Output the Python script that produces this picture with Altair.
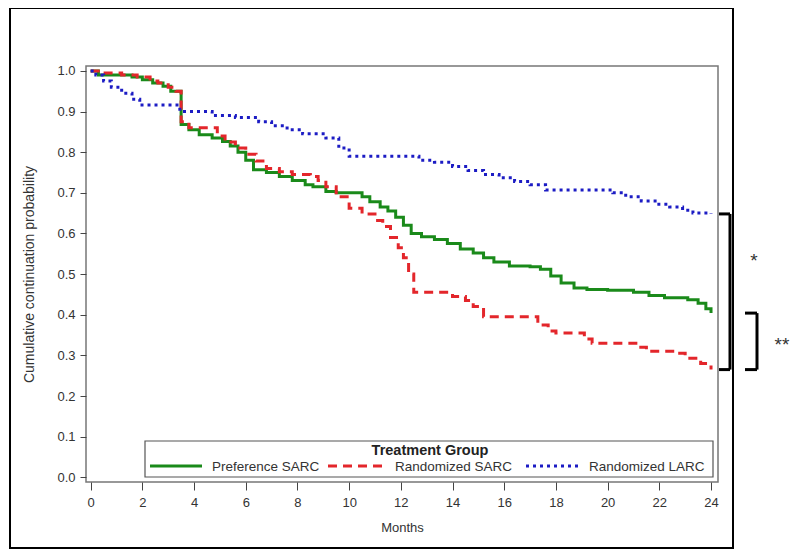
import altair as alt
import pandas as pd

groups = ["Preference SARC", "Randomized SARC", "Randomized LARC"]
colors = ["#1a8a1a", "#e3262b", "#1c1cc4"]
dashes = [[1, 0], [9, 6], [3, 4]]

months_pref = [0, 0.3, 1.0, 1.6, 2.0, 2.4, 2.8, 3.1, 3.5, 3.8,
               4.2, 4.7, 5.1, 5.4, 5.7, 6.0, 6.3, 6.8, 7.3, 7.8,
               8.3, 8.6, 9.1, 9.5, 10.2, 10.5, 10.8, 11.2, 11.5, 11.8,
               12.1, 12.4, 12.8, 13.3, 13.8, 14.3, 14.8, 15.2, 15.6, 16.2,
               17.0, 17.4, 17.8, 18.2, 18.7, 19.2, 20.0, 21.0, 21.6, 22.2,
               23.1, 23.5, 23.8, 24.0]
surv_pref = [1.0, 0.99, 0.99, 0.985, 0.978, 0.97, 0.962, 0.95, 0.868, 0.855,
             0.843, 0.835, 0.826, 0.815, 0.80, 0.78, 0.757, 0.75, 0.74, 0.73,
             0.72, 0.715, 0.703, 0.70, 0.70, 0.69, 0.678, 0.665, 0.655, 0.64,
             0.62, 0.60, 0.592, 0.585, 0.575, 0.562, 0.552, 0.54, 0.53, 0.52,
             0.518, 0.512, 0.495, 0.478, 0.466, 0.462, 0.46, 0.455, 0.447, 0.442,
             0.437, 0.428, 0.415, 0.404]

months_rsarc = [0, 0.4, 1.2, 1.8, 2.3, 2.6, 3.0, 3.3, 3.5, 3.8,
                4.9, 5.2, 5.6, 6.0, 6.4, 6.8, 7.3, 7.8, 8.5, 8.8,
                9.1, 9.5, 10.0, 10.5, 11.0, 11.3, 11.6, 11.9, 12.1, 12.3,
                12.5, 14.0, 14.5, 14.8, 15.2, 17.3, 17.7, 18.0, 19.1, 19.4,
                21.2, 21.5, 22.7, 23.0, 23.6, 24.0]
surv_rsarc = [1.0, 0.995, 0.99, 0.985, 0.975, 0.97, 0.96, 0.95, 0.875, 0.86,
              0.84, 0.825, 0.81, 0.795, 0.778, 0.76, 0.752, 0.745, 0.74, 0.73,
              0.715, 0.69, 0.662, 0.648, 0.632, 0.617, 0.59, 0.565, 0.54, 0.50,
              0.455, 0.445, 0.435, 0.42, 0.395, 0.375, 0.36, 0.355, 0.34, 0.33,
              0.32, 0.31, 0.305, 0.293, 0.28, 0.265]

months_larc = [0, 0.2, 0.5, 0.8, 1.2, 1.6, 1.9, 3.45, 4.7, 5.6,
               6.5, 7.0, 7.6, 8.2, 9.1, 9.6, 10.0, 12.7, 13.3, 14.0,
               14.6, 15.2, 15.8, 16.4, 17.0, 17.6, 20.2, 20.7, 21.3, 21.9,
               22.4, 22.9, 23.3, 24.0]
surv_larc = [1.0, 0.99, 0.975, 0.96, 0.945, 0.93, 0.916, 0.90, 0.89, 0.885,
             0.875, 0.865, 0.855, 0.845, 0.835, 0.81, 0.79, 0.78, 0.775, 0.765,
             0.755, 0.745, 0.737, 0.728, 0.72, 0.707, 0.70, 0.69, 0.68, 0.672,
             0.665, 0.657, 0.65, 0.648]

x_ticks = list(range(0, 25, 2))
y_ticks = [0.0, 0.1, 0.2, 0.3, 0.4, 0.5, 0.6, 0.7, 0.8, 0.9, 1.0]

rows = []
for g, ts, vs in zip(groups, [months_pref, months_rsarc, months_larc],
                     [surv_pref, surv_rsarc, surv_larc]):
    for t, v in zip(ts, vs):
        rows.append({"group": g, "month": t, "surv": v})
df = pd.DataFrame(rows)

FONT = "Liberation Sans"
W, H = 632, 416

x_scale = alt.Scale(domain=[-0.18, 24.27], nice=False, zero=False)
y_scale = alt.Scale(domain=[-0.0116, 1.012], nice=False, zero=False)

lines = alt.Chart(df).mark_line(interpolate="step-after", strokeWidth=3).encode(
    x=alt.X("month:Q", scale=x_scale,
            axis=alt.Axis(title="Months", values=x_ticks, format="d",
                          domain=False, grid=False, tickSize=8, tickColor="#444",
                          labelFontSize=13, labelColor="#333", labelFont=FONT,
                          labelPadding=6, titleFont=FONT, titleFontSize=13,
                          titleFontWeight="normal", titleColor="#333",
                          titleY=45, titleBaseline="middle")),
    y=alt.Y("surv:Q", scale=y_scale,
            axis=alt.Axis(title="Cumulative continuation probability",
                          values=y_ticks, format=".1f", domain=False, grid=False,
                          tickSize=6, tickColor="#444", labelFontSize=13,
                          labelColor="#333", labelFont=FONT, labelPadding=5,
                          titleFont=FONT, titleFontSize=14,
                          titleFontWeight="normal", titleColor="#333",
                          titleX=-57, titleY=H / 2, titleBaseline="middle",
                          titleAngle=270)),
    color=alt.Color("group:N", scale=alt.Scale(domain=groups, range=colors),
                    legend=None),
    strokeDash=alt.StrokeDash("group:N", scale=alt.Scale(domain=groups, range=dashes),
                              legend=None),
    order=alt.Order("month:Q"),
)

one = pd.DataFrame({"a": [0]})

frame = alt.Chart(one).mark_rect(fill="transparent", stroke="black",
                                 strokeWidth=2).encode(
    x=alt.value(-76), x2=alt.value(647), y=alt.value(-58), y2=alt.value(482))

# manual legend box
leg_box = alt.Chart(one).mark_rect(fill="white", stroke="#555",
                                   strokeWidth=1.2).encode(
    x=alt.value(59), x2=alt.value(627), y=alt.value(375), y2=alt.value(411))
leg_title = alt.Chart(one).mark_text(
    text="Treatment Group", font=FONT, fontSize=14.5, fontWeight="bold",
    color="#222", baseline="middle").encode(x=alt.value(344), y=alt.value(385))
leg_layers = []
sym_x = [(64, 116), (242, 298), (440, 492)]
lab_x = [126, 309, 503]
for i, g in enumerate(groups):
    leg_layers.append(
        alt.Chart(one).mark_rule(strokeWidth=3, color=colors[i],
                                 strokeDash=dashes[i]).encode(
            x=alt.value(sym_x[i][0]), x2=alt.value(sym_x[i][1]), y=alt.value(400)))
    leg_layers.append(
        alt.Chart(one).mark_text(text=g, font=FONT, fontSize=13.5, color="#333",
                                 align="left", baseline="middle").encode(
            x=alt.value(lab_x[i]), y=alt.value(401)))

end_larc, end_pref, end_rsarc = surv_larc[-1], surv_pref[-1], surv_rsarc[-1]


def bracket(top, bottom, px0, px1):
    d = pd.DataFrame({"top": [top], "bottom": [bottom]})
    base = alt.Chart(d).mark_rule(color="black", strokeWidth=3)
    return [
        base.encode(y=alt.Y("top:Q", scale=y_scale), x=alt.value(px0), x2=alt.value(px1)),
        base.encode(y=alt.Y("bottom:Q", scale=y_scale), x=alt.value(px0), x2=alt.value(px1)),
        base.encode(y=alt.Y("top:Q", scale=y_scale), y2="bottom:Q", x=alt.value(px1)),
    ]


br = bracket(end_larc, end_rsarc, 633, 644) + bracket(end_pref, end_rsarc, 659, 671)

star1 = alt.Chart(one).mark_text(text="*", fontSize=19, font=FONT, color="#333").encode(
    x=alt.value(668), y=alt.value(195))
star2 = alt.Chart(one).mark_text(text="**", fontSize=19, font=FONT, color="#333").encode(
    x=alt.value(696), y=alt.value(279))

chart = alt.layer(lines, frame, leg_box, leg_title, *leg_layers, *br,
                  star1, star2).properties(
    width=W, height=H,
    autosize=alt.AutoSizeParams(type="none"),
    padding={"left": 78, "top": 58, "right": 74, "bottom": 67},
    background="white",
).configure_view(stroke="#777", strokeWidth=1.5)

chart.save("out.html", embed_options={"renderer": "svg", "actions": False})
